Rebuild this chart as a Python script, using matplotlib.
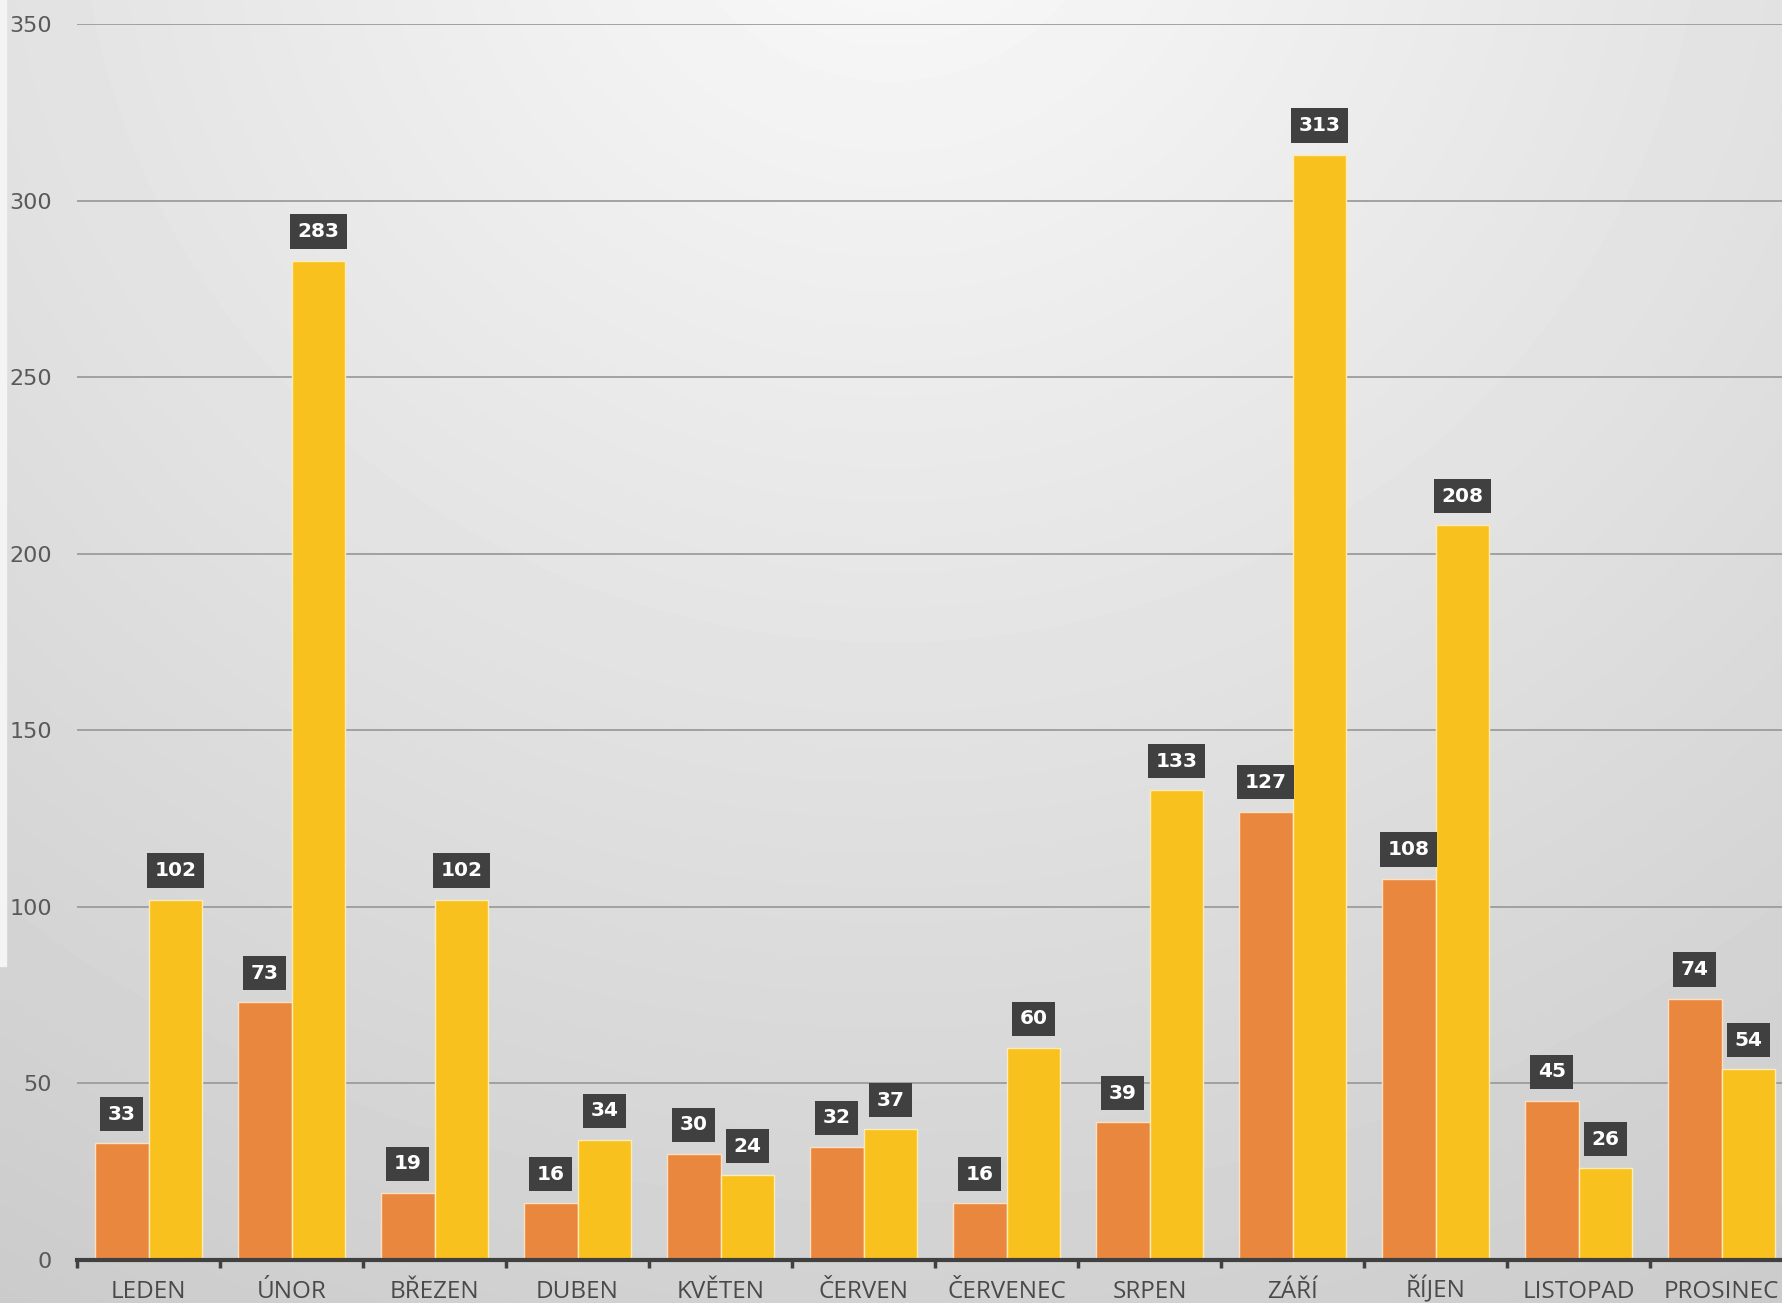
import matplotlib.pyplot as plt
import numpy as np
from matplotlib.patches import Rectangle

# data
mesice = ['LEDEN', 'ÚNOR', 'BŘEZEN', 'DUBEN', 'KVĚTEN', 'ČERVEN',
          'ČERVENEC', 'SRPEN', 'ZÁŘÍ', 'ŘÍJEN', 'LISTOPAD', 'PROSINEC']
rada_oranzova = [33, 73, 19, 16, 30, 32, 16, 39, 127, 108, 45, 74]
rada_zluta = [102, 283, 102, 34, 24, 37, 60, 133, 313, 208, 26, 54]
y_ticks = [0, 50, 100, 150, 200, 250, 300, 350]

W, H = 1782, 1303
fig = plt.figure(figsize=(W / 100, H / 100), dpi=100)

# radial gray background, light at top centre
yy, xx = np.mgrid[0:1:400j, 0:1:560j]
r = np.sqrt(((xx - 0.5) / 1.0) ** 2 + ((yy + 0.1) / 1.3) ** 2)
bg_vals = 250 - 48 * np.clip(r, 0, 1)
bg = fig.add_axes([0, 0, 1, 1], zorder=-2)
bg.imshow(bg_vals, cmap='gray', vmin=0, vmax=255, aspect='auto',
          interpolation='bilinear')
bg.axis('off')
fig.patches.append(Rectangle((0, (H - 966) / H), 6 / W, 966 / H,
                             transform=fig.transFigure, color='#f4f4f4',
                             zorder=-1))

left = 77 / W
width = 12 * 143 / W
bottom = (H - 1260) / H
top = (H - 24) / H
ax = fig.add_axes([left, bottom, width, top - bottom])
ax.set_facecolor('none')

x = np.arange(len(mesice))
bw = 0.375
b1 = ax.bar(x - bw / 2, rada_oranzova, bw, color='#EA873F',
            edgecolor='#fbe1c0', linewidth=1.0, zorder=3)
b2 = ax.bar(x + bw / 2, rada_zluta, bw, color='#F9C11E',
            edgecolor='#fdebb8', linewidth=1.0, zorder=3)

# popisky hodnot v tmavych ramecich
for bars, vals in [(b1, rada_oranzova), (b2, rada_zluta)]:
    for rect, v in zip(bars, vals):
        ax.annotate(str(v), (rect.get_x() + rect.get_width() / 2, v),
                    xytext=(0, 21), textcoords='offset points',
                    ha='center', va='center', fontsize=14.5,
                    fontweight='bold', color='white', zorder=5,
                    bbox=dict(boxstyle='square,pad=0.38', fc='#404040',
                              ec='none'))

ax.set_xlim(-0.5, 11.5)
ax.set_ylim(0, 350)
ax.set_yticks(y_ticks)
ax.set_yticklabels([str(t) for t in y_ticks])
ax.set_xticks(x)
ax.set_xticklabels(mesice)
ax.set_xticks(np.arange(-0.5, 12, 1), minor=True)

ax.grid(axis='y', color='#9c9c9c', linewidth=1.3, zorder=0)
ax.set_axisbelow(True)

for s in ['top', 'right', 'left']:
    ax.spines[s].set_visible(False)
ax.spines['bottom'].set_color('#404040')
ax.spines['bottom'].set_linewidth(3)
ax.spines['bottom'].set_zorder(4)

ax.tick_params(axis='y', length=0, pad=18, labelsize=16, labelcolor='#595959')
ax.tick_params(axis='x', which='major', length=0, pad=27, labelsize=17.5,
               labelcolor='#4a4a4a')
ax.tick_params(axis='x', which='minor', length=6, width=2.5, color='#404040',
               direction='out')
for lab in ax.get_xticklabels():
    lab.set_fontfamily('Open Sans')
    lab.set_verticalalignment('baseline')
    lab.set_clip_on(False)

fig.savefig('out.png', dpi=100)
